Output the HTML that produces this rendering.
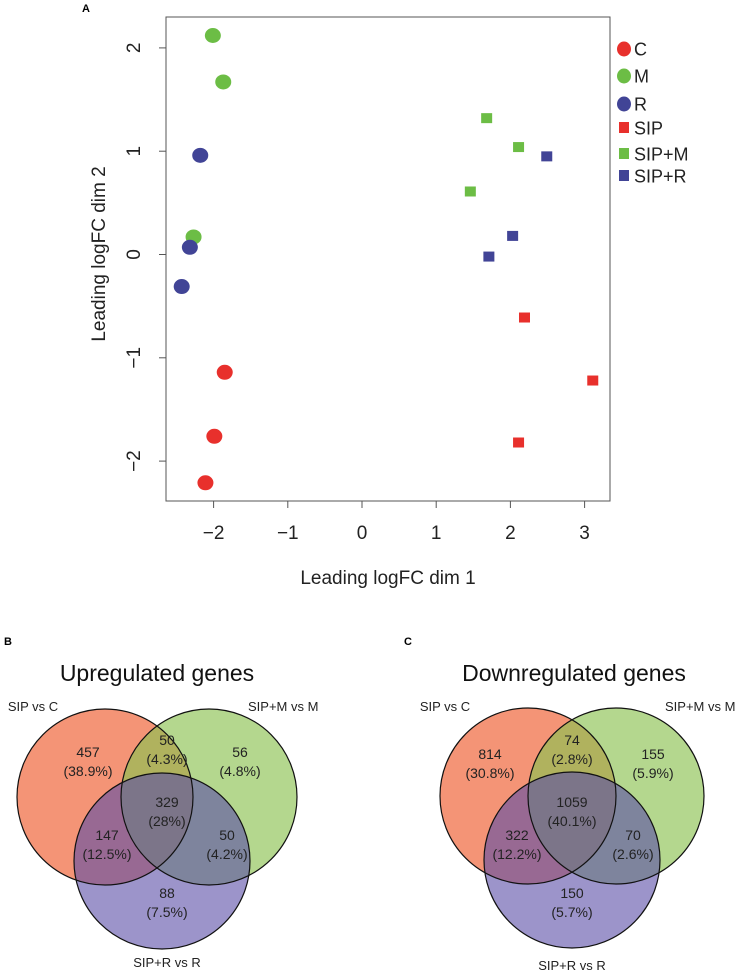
<!DOCTYPE html>
<html><head><meta charset="utf-8"><style>
body{margin:0;background:#fff;}
svg{display:block;font-family:"Liberation Sans",sans-serif;}
</style></head><body>
<svg id="root" width="746" height="973" viewBox="0 0 746 973">
<text x="82" y="12" font-size="11" font-weight="bold">A</text>
<g id="mds"></g>
<g id="venns"></g>
</svg>
<script>
const NS="http://www.w3.org/2000/svg";
const groups=["C","M","R","SIP","SIP+M","SIP+R"];
const groupColors=["#e8302c","#6cbd45","#414496","#e8302c","#6cbd45","#414496"];
const groupShapes=["circle","circle","circle","square","square","square"];
const ptGroup=[0,0,0,1,1,1,2,2,2,3,3,3,4,4,4,5,5,5];
const dim1=[-1.85,-1.99,-2.11,-2.01,-1.87,-2.27,-2.18,-2.32,-2.43,2.19,3.11,2.11,1.68,2.11,1.46,2.49,2.03,1.71];
const dim2=[-1.14,-1.76,-2.21,2.12,1.67,0.17,0.96,0.07,-0.31,-0.61,-1.22,-1.82,1.32,1.04,0.61,0.95,0.18,-0.02];
const xTicks=[-2,-1,0,1,2,3];
const yTicks=[-2,-1,0,1,2];
function sx(v){return 362+74.2*v;}
function sy(v){return 254.5-103.3*v;}
function mk(tag,attrs,parent,txt){const e=document.createElementNS(NS,tag);for(const k in attrs)e.setAttribute(k,attrs[k]);if(txt!==undefined)e.textContent=txt;parent.appendChild(e);return e;}
const g=document.getElementById('mds');
const box=mk('rect',{x:166,y:17,width:444,height:484,fill:'none',stroke:'#555','stroke-width':1},g);


xTicks.forEach(t=>{
 const l=mk('line',{x1:sx(t),x2:sx(t),y1:501,y2:508,stroke:'#555'},g);
 
 
 const tx=mk('text',{x:sx(t),y:539,'font-size':19,'text-anchor':'middle',fill:'#222'},g,t<0?'\u2212'+(-t):String(t));
 
 
});
yTicks.forEach(t=>{
 const l=mk('line',{x1:159,x2:166,y1:sy(t),y2:sy(t),stroke:'#555'},g);
 
 
 const tx=mk('text',{x:0,y:0,'font-size':19,'text-anchor':'middle',fill:'#222',transform:`translate(140,${sy(t)}) rotate(-90)`},g,t<0?'\u2212'+(-t):String(t));
 
 
});
const xt=mk('text',{x:388,y:584,'font-size':19,'text-anchor':'middle',fill:'#222'},g,'Leading logFC dim 1');


const yt=mk('text',{x:0,y:0,'font-size':19,'text-anchor':'middle',fill:'#222',transform:'translate(105,254) rotate(-90)'},g,'Leading logFC dim 2');


dim1.forEach((v,i)=>{
 const gi=ptGroup[i];let e;
 if(groupShapes[gi]==='circle') e=mk('ellipse',{cx:sx(v),cy:sy(dim2[i]),rx:8,ry:7.5,fill:groupColors[gi]},g);
 else e=mk('rect',{x:sx(v)-5.5,y:sy(dim2[i])-5,width:11,height:10,fill:groupColors[gi]},g);
 
 
});
const legY=[49,76,104,128,154,176];
groups.forEach((n,i)=>{
 let e;
 if(groupShapes[i]==='circle') e=mk('ellipse',{cx:624,cy:legY[i],rx:7,ry:7.5,fill:groupColors[i]},g);
 else e=mk('rect',{x:619,y:legY[i]-6,width:10,height:11,fill:groupColors[i]},g);
 
 
 const t=mk('text',{x:634,y:legY[i]+6.5,'font-size':18,fill:'#222'},g,n);
 
 
});
const vennTitles=["Upregulated genes","Downregulated genes"];
const vennPanel=["B","C"];
const upCounts=["457","50","56","329","147","50","88"];
const upPct=["(38.9%)","(4.3%)","(4.8%)","(28%)","(12.5%)","(4.2%)","(7.5%)"];
const downCounts=["814","74","155","1059","322","70","150"];
const downPct=["(30.8%)","(2.8%)","(5.9%)","(40.1%)","(12.2%)","(2.6%)","(5.7%)"];
const setNames=["SIP vs C","SIP+M vs M","SIP+R vs R"];
const vg=document.getElementById('venns');
const layouts=[
 {px:4,cx:157,circ:[[105,797],[209,797],[162,861]],lab:[[88,752],[167,740],[240,752],[167,802],[107,835],[227,835],[167,893]],names:[[33,711,'middle'],[248,711,'start'],[167,967,'middle']]},
 {px:404,cx:574,circ:[[528,796],[616,796],[572,860]],lab:[[490,754],[572,740],[653,754],[572,802],[517,835],[633,835],[572,893]],names:[[445,711,'middle'],[665,711,'start'],[572,970,'middle']]}
];
const fills=["#ee5a2c","#8cc152","#5a4da6"];const ops=[0.65,0.65,0.6];
layouts.forEach((L,k)=>{
 const counts=k?downCounts:upCounts, pct=k?downPct:upPct;
 const pl=mk('text',{x:L.px,y:645,'font-size':11,'font-weight':'bold'},vg,vennPanel[k]);
 
 
 const tt=mk('text',{x:L.cx,y:681,'font-size':23,'text-anchor':'middle',fill:'#111'},vg,vennTitles[k]);
 
 
 L.circ.forEach((c,i)=>{
  const e=mk('circle',{cx:c[0],cy:c[1],r:88,fill:fills[i],'fill-opacity':ops[i]},vg);
  
  
 });
 L.circ.forEach(c=>{
  const e=mk('circle',{cx:c[0],cy:c[1],r:88,fill:'none',stroke:'#111','stroke-width':1.2},vg);
  
  
 });
 L.lab.forEach((p,i)=>{
  const a=mk('text',{x:p[0],y:p[1]+5,'font-size':14,'text-anchor':'middle',fill:'#222'},vg,counts[i]);
  
  
  const b=mk('text',{x:p[0],y:p[1]+24,'font-size':14,'text-anchor':'middle',fill:'#222'},vg,pct[i]);
  
  
 });
 L.names.forEach((n,i)=>{
  const t=mk('text',{x:n[0],y:n[1],'font-size':13,'text-anchor':n[2],fill:'#222'},vg,setNames[i]);
  
  
 });
});
</script>
</body></html>
